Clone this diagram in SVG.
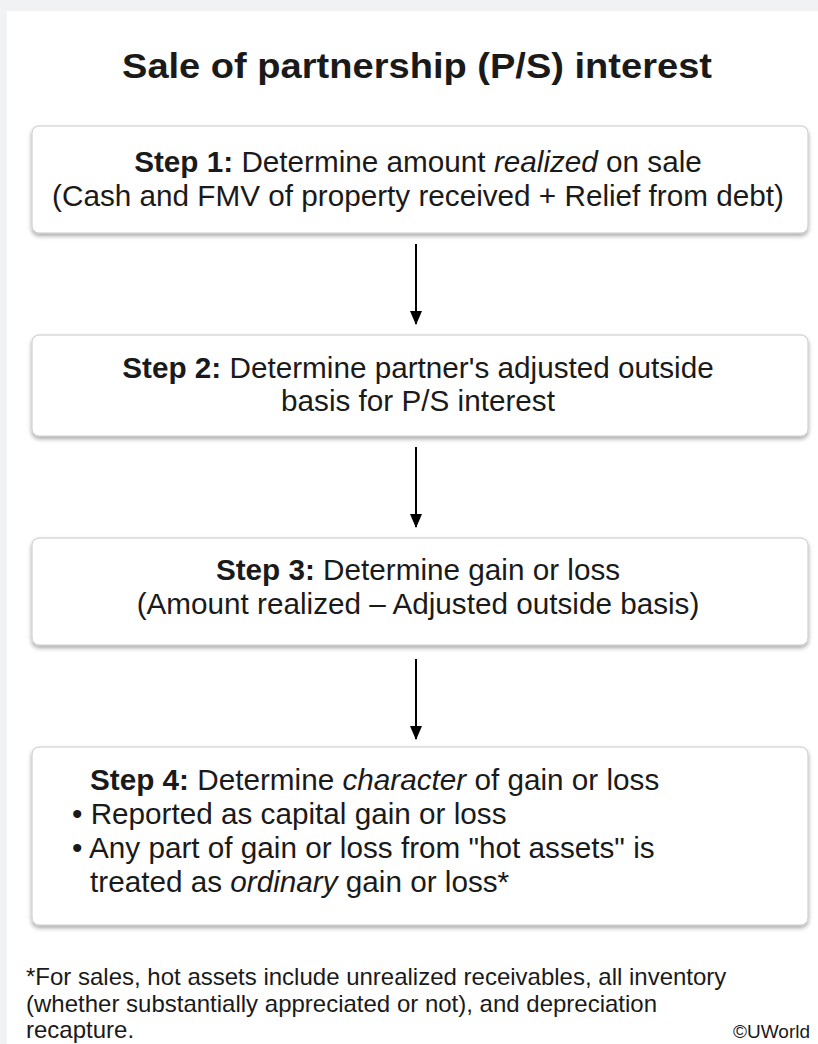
<svg xmlns="http://www.w3.org/2000/svg" width="818" height="1044" viewBox="0 0 818 1044">
<defs>
<filter id="sh" x="-5%" y="-10%" width="110%" height="130%">
<feDropShadow dx="0" dy="2.5" stdDeviation="2" flood-color="#000" flood-opacity="0.35"/>
</filter>
<marker id="ah" markerWidth="14" markerHeight="12" refX="13" refY="6" orient="auto" markerUnits="userSpaceOnUse">
<path d="M0,0 L14,6 L0,12 Z" fill="#000"/>
</marker>
<style>
.box{fill:#fff;stroke:#c8c8c8;stroke-width:1;filter:url(#sh)}
.t{font-family:"Liberation Sans",Arial,sans-serif;font-size:29.7px;fill:#1a1a1a}
.c{text-anchor:middle}
.b{font-weight:bold}
.i{font-style:italic}
.fn{font-family:"Liberation Sans",Arial,sans-serif;font-size:24px;fill:#1a1a1a}
.ar{stroke:#000;stroke-width:2;fill:none;marker-end:url(#ah)}
</style>
</defs>
<rect width="818" height="1044" fill="#f1f2f4"/>
<rect x="7" y="11" width="820" height="1040" fill="#fff"/>
<text x="417" y="78" class="t c b" style="font-size:35px" textLength="590" lengthAdjust="spacingAndGlyphs">Sale of partnership (P/S) interest</text>
<g id="step1">
<rect x="32" y="126" width="776" height="107" rx="7" class="box"/>
<text x="418" y="172" class="t c"><tspan class="b">Step 1:</tspan> Determine amount <tspan class="i">realized</tspan> on sale</text>
<text x="418" y="206" class="t c">(Cash and FMV of property received + Relief from debt)</text>
</g>
<g id="step2">
<rect x="32" y="335" width="776" height="101" rx="7" class="box"/>
<text x="418" y="378" class="t c"><tspan class="b">Step 2:</tspan> Determine partner's adjusted outside</text>
<text x="418" y="411" class="t c">basis for P/S interest</text>
</g>
<g id="step3">
<rect x="32" y="538" width="776" height="107" rx="7" class="box"/>
<text x="418" y="580" class="t c"><tspan class="b">Step 3:</tspan> Determine gain or loss</text>
<text x="418" y="614" class="t c">(Amount realized – Adjusted outside basis)</text>
</g>
<g id="step4">
<rect x="32" y="747" width="776" height="178" rx="7" class="box"/>
<text x="90" y="790" class="t"><tspan class="b">Step 4:</tspan> Determine <tspan class="i">character</tspan> of gain or loss</text>
<text x="72" y="824" class="t">• Reported as capital gain or loss</text>
<text x="72" y="858" class="t">• Any part of gain or loss from "hot assets" is</text>
<text x="90" y="892" class="t">treated as <tspan class="i">ordinary</tspan> gain or loss*</text>
</g>
<g id="connectors">
<line x1="416" y1="244" x2="416" y2="324" class="ar"/>
<line x1="416" y1="447" x2="416" y2="527" class="ar"/>
<line x1="416" y1="659" x2="416" y2="739" class="ar"/>
</g>
<g id="footnote">
<text x="26" y="985" class="fn">*For sales, hot assets include unrealized receivables, all inventory</text>
<text x="26" y="1012" class="fn">(whether substantially appreciated or not), and depreciation</text>
<text x="26" y="1038" class="fn">recapture.</text>
<text x="733" y="1038" class="fn" style="font-size:19px">©UWorld</text>
</g>
</svg>
